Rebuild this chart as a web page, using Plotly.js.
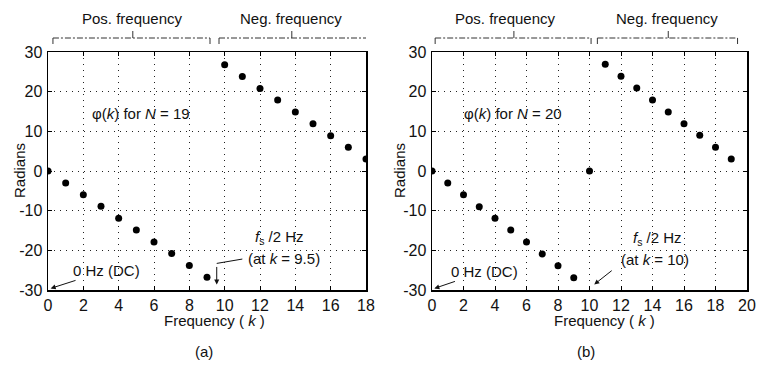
<!DOCTYPE html>
<html><head><meta charset="utf-8">
<script src="https://cdn.plot.ly/plotly-3.0.1.min.js"></script>
<style>html,body{margin:0;padding:0;background:#fff}#c{width:758px;height:367px}</style>
</head><body><div id="c"></div>
<script>
// Data
const kA = [0,1,2,3,4,5,6,7,8,9,10,11,12,13,14,15,16,17,18];
const phiA = [0,-3.0,-6.0,-8.9,-11.9,-14.9,-17.9,-20.8,-23.8,-26.8,26.8,23.8,20.8,17.9,14.9,11.9,8.9,6.0,3.0];
const kB = [0,1,2,3,4,5,6,7,8,9,10,11,12,13,14,15,16,17,18,19];
const phiB = [0,-3.0,-6.0,-9.0,-11.9,-14.9,-17.9,-20.9,-23.9,-26.9,0,26.9,23.9,20.9,17.9,14.9,11.9,9.0,6.0,3.0];
const yTickVals = [-30,-20,-10,0,10,20,30];
const yTickText = ['-30','-20','-10','0','10','20','30'];
const xTicksA = [0,2,4,6,8,10,12,14,16,18];
const xTicksB = [0,2,4,6,8,10,12,14,16,18,20];

const W = 758, H = 367;
const px = x => x / W, py = y => 1 - y / H;
const FONT = {family: 'Liberation Sans, Arial, sans-serif', size: 15, color: '#111'};
const TFONT = {family: 'Liberation Sans, Arial, sans-serif', size: 16, color: '#111'};

const marker = {color: '#000', size: 7};
const traces = [
  {x: kA, y: phiA, mode: 'markers', marker, xaxis: 'x', yaxis: 'y', hoverinfo: 'x+y'},
  {x: kB, y: phiB, mode: 'markers', marker, xaxis: 'x2', yaxis: 'y2', hoverinfo: 'x+y'}
];

const ydom = [1 - 290 / H, 1 - 52 / H];
function xax(dom, rng, ticks) {
  return {domain: dom, range: rng, tickvals: ticks, ticktext: ticks.map(String),
    showline: true, mirror: 'ticks', linecolor: '#000', linewidth: 1.5,
    ticks: 'inside', ticklen: 4, tickcolor: '#000',
    showgrid: true, gridcolor: '#222', gridwidth: 1, griddash: '1px,5px',
    zeroline: false, tickfont: TFONT, fixedrange: true};
}
function yax(anchor) {
  return {domain: ydom, range: [-30, 30], anchor, tickvals: yTickVals, ticktext: yTickText,
    showline: true, mirror: 'ticks', linecolor: '#000', linewidth: 1.5,
    ticks: 'inside', ticklen: 4, tickcolor: '#000', ticklabelstandoff: 1,
    showgrid: true, gridcolor: '#222', gridwidth: 1, griddash: '1px,5px',
    zeroline: false, tickfont: TFONT, fixedrange: true};
}

// bracket shapes (data x, paper y)
function bracket(xref, x0, x1, xc) {
  const yl = py(38), ye = py(44), yc = py(31);
  const line = {color: '#333', width: 1, dash: '6px,2px,2px,2px'};
  return [
    {type: 'line', xref, yref: 'paper', x0, x1, y0: yl, y1: yl, line},
    {type: 'line', xref, yref: 'paper', x0: x0, x1: x0, y0: yl, y1: ye, line: {color: '#333', width: 1}},
    {type: 'line', xref, yref: 'paper', x0: x1, x1: x1, y0: yl, y1: ye, line: {color: '#333', width: 1}},
    {type: 'line', xref, yref: 'paper', x0: xc, x1: xc, y0: yl, y1: yc, line: {color: '#333', width: 1}}
  ];
}
const shapes = [].concat(
  bracket('x', 0.28, 9.17, 4.8),
  bracket('x', 9.68, 18.05, 13.8),
  bracket('x2', 0.2, 10.1, 5.2),
  bracket('x2', 10.5, 19.4, 15.0),
  [{type: 'line', xref: 'x', yref: 'y', x0: 9.55, x1: 11.0, y0: -23.3, y1: -22.2, line: {color: '#111', width: 1}}]
);

const ann = (o) => Object.assign({showarrow: false, font: FONT, xref: 'paper', yref: 'paper', xanchor: 'center', yanchor: 'middle'}, o);
const annotations = [
  ann({x: px(132), y: py(18), text: 'Pos. frequency'}),
  ann({x: px(291), y: py(18), text: 'Neg. frequency'}),
  ann({x: px(505), y: py(18), text: 'Pos. frequency'}),
  ann({x: px(667), y: py(18), text: 'Neg. frequency'}),
  ann({x: px(19), y: py(171), text: 'Radians', textangle: -90}),
  ann({x: px(399), y: py(171), text: 'Radians', textangle: -90}),
  ann({x: px(214), y: py(320), text: 'Frequency ( <i>k</i> )'}),
  ann({x: px(604), y: py(320), text: 'Frequency ( <i>k</i> )'}),
  ann({x: px(204), y: py(351), text: '(a)'}),
  ann({x: px(586), y: py(351), text: '(b)'}),
  ann({x: px(141), y: py(113), text: 'φ(<i>k</i>) for <i>N</i> = 19'}),
  ann({x: px(513), y: py(113), text: 'φ(<i>k</i>) for <i>N</i> = 20'}),
  ann({x: px(279), y: py(237), text: '<i>f</i><sub>s</sub> /2 Hz'}),
  ann({x: px(284), y: py(258), text: '(at <i>k</i> = 9.5)'}),
  ann({x: px(657), y: py(239), text: '<i>f</i><sub>s</sub> /2 Hz'}),
  ann({x: px(655), y: py(259), text: '(at <i>k</i> = 10)'}),
  // arrows
  {xref: 'x', yref: 'y', x: 9.55, y: -28.6, ax: 0, ay: -19, text: '', showarrow: true, arrowhead: 2, arrowsize: 1, arrowwidth: 1, arrowcolor: '#111'},
  {xref: 'x', yref: 'y', x: 0.15, y: -29.6, ax: 56, ay: -18, text: '0 Hz (DC)', showarrow: true, arrowhead: 2, arrowsize: 1, arrowwidth: 1, arrowcolor: '#111', font: FONT},
  {xref: 'x2', yref: 'y2', x: 0.15, y: -29.6, ax: 50, ay: -17, text: '0 Hz (DC)', showarrow: true, arrowhead: 2, arrowsize: 1, arrowwidth: 1, arrowcolor: '#111', font: FONT},
  {xref: 'x2', yref: 'y2', x: 10.3, y: -28.6, ax: 19, ay: -15, text: '', showarrow: true, arrowhead: 2, arrowsize: 1, arrowwidth: 1, arrowcolor: '#111'}
];

const layout = {
  width: W, height: H, margin: {l: 0, r: 0, t: 0, b: 0},
  paper_bgcolor: '#fff', plot_bgcolor: '#fff', showlegend: false, font: FONT,
  xaxis: Object.assign(xax([48 / W, 366 / W], [0, 18], xTicksA), {anchor: 'y'}),
  yaxis: yax('x'),
  xaxis2: Object.assign(xax([432 / W, 747 / W], [0, 20], xTicksB), {anchor: 'y2'}),
  yaxis2: yax('x2'),
  shapes, annotations
};
Plotly.newPlot('c', traces, layout, {displayModeBar: false, staticPlot: true});
</script></body></html>
